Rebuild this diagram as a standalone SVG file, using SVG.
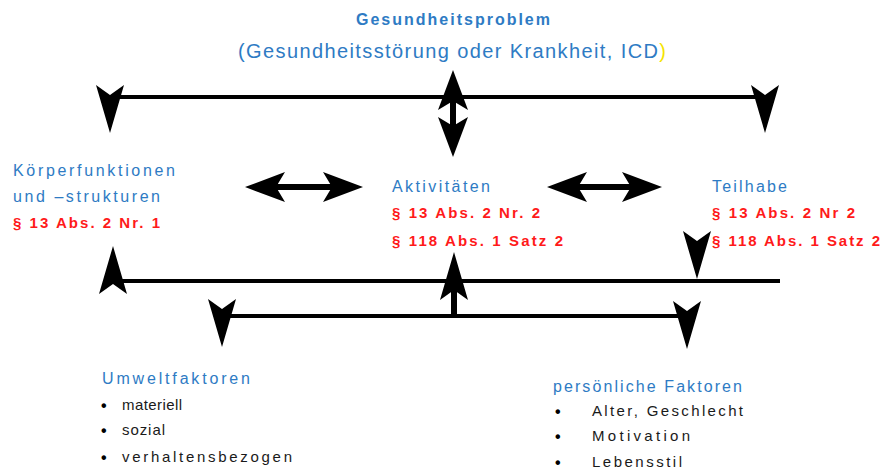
<svg xmlns="http://www.w3.org/2000/svg" width="885" height="471" viewBox="0 0 885 471">
<style>
text{font-family:"Liberation Sans",Arial,sans-serif;}
.b{fill:#2E7BC4;font-size:16px;}
.r{fill:#FF1A1A;font-size:15px;font-weight:bold;}
.k{fill:#1a1a1a;font-size:15px;}
.d{fill:#000;font-size:16px;font-weight:bold;}
.ln{stroke:#000;stroke-width:4;fill:none;}
.lw{stroke:#000;stroke-width:6;fill:none;}
.ah{fill:#000;}
</style>
<defs>
<path id="ah" d="M0,0 L-48,-14 L-38,0 L-48,14 Z"/>
<path id="ah2" d="M0,0 L-40,-15 L-31,0 L-40,15 Z"/>
</defs>
<rect width="885" height="471" fill="#fff"/>
<g id="gesundheitsproblem">
<text x="453" y="25" text-anchor="middle" class="b" font-weight="bold" font-size="15" textLength="194" lengthAdjust="spacing">Gesundheitsproblem</text>
<text x="238" y="58" font-size="20" fill="#2E7BC4" textLength="428" lengthAdjust="spacing">(Gesundheitsstörung oder Krankheit, ICD<tspan fill="#F5E400">)</tspan></text>
</g>
<g id="koerperfunktionen">
<text x="13" y="176" class="b" textLength="162" lengthAdjust="spacing">Körperfunktionen</text>
<text x="13" y="202" class="b" textLength="147" lengthAdjust="spacing">und –strukturen</text>
<text x="13" y="228" class="r" textLength="147" lengthAdjust="spacing">§ 13 Abs. 2 Nr. 1</text>
</g>
<g id="aktivitaeten">
<text x="392" y="192" class="b" textLength="98" lengthAdjust="spacing">Aktivitäten</text>
<text x="392" y="218" class="r" textLength="148" lengthAdjust="spacing">§ 13 Abs. 2 Nr. 2</text>
<text x="392" y="246" class="r" textLength="171" lengthAdjust="spacing">§ 118 Abs. 1 Satz 2</text>
</g>
<g id="teilhabe">
<text x="712" y="192" class="b" textLength="75" lengthAdjust="spacing">Teilhabe</text>
<text x="712" y="218" class="r" textLength="143" lengthAdjust="spacing">§ 13 Abs. 2 Nr 2</text>
<text x="712" y="246" class="r" textLength="168" lengthAdjust="spacing">§ 118 Abs. 1 Satz 2</text>
</g>
<g id="umweltfaktoren">
<text x="102" y="384" class="b" textLength="148" lengthAdjust="spacing">Umweltfaktoren</text>
<text x="101" y="411" class="d">•</text><text x="122" y="410" class="k" textLength="60" lengthAdjust="spacing">materiell</text>
<text x="101" y="436" class="d">•</text><text x="122" y="435" class="k" textLength="43" lengthAdjust="spacing">sozial</text>
<text x="101" y="463" class="d">•</text><text x="122" y="462" class="k" textLength="170" lengthAdjust="spacing">verhaltensbezogen</text>
</g>
<g id="persoenliche-faktoren">
<text x="553" y="392" class="b" textLength="189" lengthAdjust="spacing">persönliche Faktoren</text>
<text x="555" y="417" class="d">•</text><text x="592" y="416" class="k" textLength="151" lengthAdjust="spacing">Alter, Geschlecht</text>
<text x="555" y="442" class="d">•</text><text x="592" y="441" class="k" textLength="98" lengthAdjust="spacing">Motivation</text>
<text x="555" y="468" class="d">•</text><text x="592" y="467" class="k" textLength="90" lengthAdjust="spacing">Lebensstil</text>
</g>
<g id="connectors">
<line class="ln" x1="110" y1="97" x2="765" y2="97"/>
<use href="#ah" class="ah" transform="translate(110,133) rotate(90)"/>
<use href="#ah" class="ah" transform="translate(765,133) rotate(90)"/>
<line class="lw" x1="453" y1="100" x2="453" y2="127"/>
<use href="#ah2" class="ah" transform="translate(453,70) rotate(-90)"/>
<use href="#ah2" class="ah" transform="translate(453,157) rotate(90)"/>
<line class="lw" x1="270" y1="187" x2="338" y2="187"/>
<use href="#ah2" class="ah" transform="translate(245,187) rotate(180)"/>
<use href="#ah2" class="ah" transform="translate(363,187)"/>
<line class="lw" x1="572" y1="187" x2="637" y2="187"/>
<use href="#ah2" class="ah" transform="translate(547,187) rotate(180)"/>
<use href="#ah2" class="ah" transform="translate(662,187)"/>
<line class="ln" x1="113" y1="281" x2="780" y2="281"/>
<use href="#ah" class="ah" transform="translate(113,246) rotate(-90)"/>
<use href="#ah" class="ah" transform="translate(697,279) rotate(90)"/>
<line class="lw" x1="454" y1="290" x2="454" y2="316"/>
<use href="#ah" class="ah" transform="translate(454,252) rotate(-90)"/>
<line class="ln" x1="222" y1="316" x2="687" y2="316"/>
<use href="#ah" class="ah" transform="translate(222,347) rotate(90)"/>
<use href="#ah" class="ah" transform="translate(687,349) rotate(90)"/>
</g>
</svg>
